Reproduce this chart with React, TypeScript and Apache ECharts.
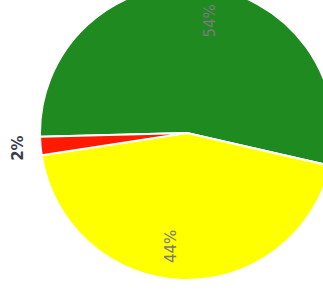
import React, { useEffect, useRef } from "react";
import * as echarts from "echarts";

const categories = ["Green", "Yellow", "Red"];
const values = [54, 44, 2];
const labels = ["54%", "44%", "2%"];
const colors = ["#1f8a1f", "#ffff00", "#ff1a00"];

export default function App() {
  const ref = useRef<HTMLDivElement>(null);
  useEffect(() => {
    if (!ref.current) return;
    const chart = echarts.init(ref.current, undefined, { renderer: "svg" });
    const base = categories.map((name, i) => ({ name, value: values[i] }));
    const common = {
      type: "pie" as const,
      center: [187, 133],
      startAngle: 181.5,
      clockwise: true,
      avoidLabelOverlap: false,
      labelLine: { show: false },
    };
    chart.setOption({
      animation: false,
      series: [
        {
          ...common,
          radius: [0, 147],
          label: { show: false },
          itemStyle: { borderColor: "#ffffff", borderWidth: 2 },
          data: base.map((d, i) => ({ ...d, itemStyle: { color: colors[i] } })),
        },
        {
          ...common,
          startAngle: 175.5,
          radius: [76, 147],
          silent: true,
          itemStyle: { color: "transparent" },
          label: {
            show: true,
            position: "inside",
            rotate: 90,
            color: "#7a7a7a",
            fontSize: 15,
            fontFamily: "DejaVu Sans",
            formatter: (p: any) => (p.dataIndex < 2 ? labels[p.dataIndex] : ""),
          },
          data: base,
        },
        {
          ...common,
          radius: [148, 186],
          silent: true,
          itemStyle: { color: "transparent" },
          label: {
            show: true,
            position: "inside",
            rotate: 90,
            color: "#3c3c4c",
            fontSize: 15,
            fontWeight: "bold",
            fontFamily: "DejaVu Sans",
            formatter: (p: any) => (p.dataIndex === 2 ? labels[p.dataIndex] : ""),
          },
          data: base,
        },
      ],
    });
    return () => chart.dispose();
  }, []);
  return (
    <div
      ref={ref}
      style={{ position: "fixed", left: 0, top: 0, width: 323, height: 292, background: "#ffffff" }}
    />
  );
}
